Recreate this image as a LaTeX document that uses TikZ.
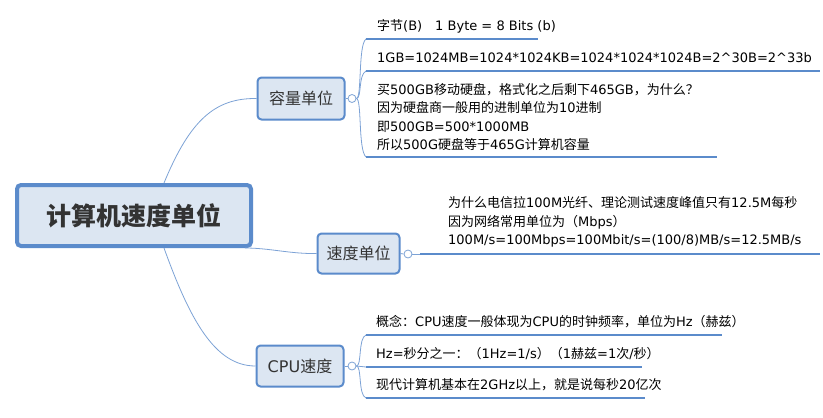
\documentclass[tikz,border=0pt]{standalone}
\usepackage{fontspec}
\setmainfont{DejaVu Sans}
\newfontfamily\cjkf{Noto Sans CJK SC}
\XeTeXinterchartokenstate=1
\newXeTeXintercharclass\cjkclass
\newcount\cc
\cc="3000 \loop\ifnum\cc<"A000 \XeTeXcharclass\cc=\cjkclass \advance\cc by 1 \repeat
\cc="FF00 \loop\ifnum\cc<"FFF0 \XeTeXcharclass\cc=\cjkclass \advance\cc by 1 \repeat
\XeTeXinterchartoks 0 \cjkclass = {\begingroup\cjkf}
\XeTeXinterchartoks 4095 \cjkclass = {\begingroup\cjkf}
\XeTeXinterchartoks \cjkclass 0 = {\endgroup}
\XeTeXinterchartoks \cjkclass 4095 = {\endgroup}
\begin{document}
\begin{tikzpicture}[x=1pt,y=-1pt,
  topic/.style={draw=boxc,line width=2pt,fill=boxf,rounded corners=4pt,inner sep=0pt,font=\fontsize{16}{18}\selectfont,text=black!80},
  leaf/.style={anchor=west,align=left,inner sep=0pt,font=\fontsize{13}{18.5}\selectfont},
  uline/.style={draw=boxc,line width=2.5pt},
  conn/.style={draw=boxc!80,line width=0.8pt},
  knob/.style={circle,draw=boxc!80,fill=white,minimum size=8pt,inner sep=0pt,line width=0.8pt}]
\definecolor{boxc}{HTML}{5B8BCB}
\definecolor{boxf}{HTML}{DCE6F2}
\useasboundingbox (0,0) rectangle (823,418);
% root
\node[topic,line width=4pt,minimum width=234,minimum height=61,font=\fontsize{25}{28}\bfseries\selectfont] (root) at (134,215.5) {计算机速度单位};
\node[topic,minimum width=87,minimum height=42] (cap) at (301,98.5) {容量单位};
\node[topic,minimum width=82,minimum height=40] (spd) at (358.5,253.5) {速度单位};
\node[topic,minimum width=87,minimum height=41] (cpu) at (300,366) {CPU速度};
% connectors root->topics
\draw[conn] (root.north)+(30,0) coordinate (r1) (r1) .. controls (190,120) and (215,98) .. (cap.west);
\draw[conn] (root.south east)+(-8,0) coordinate (r2) (r2) .. controls (270,248) and (290,254) .. (spd.west);
\draw[conn] (root.south)+(30,0) coordinate (r3) (r3) .. controls (190,320) and (215,366) .. (cpu.west);
% capacity
\node[knob] (k1) at (352,98.5) {};
\draw[conn] (cap.east) -- (k1.west);
\coordinate (c1a) at (366,39); \coordinate (c1b) at (538,39);
\coordinate (c2a) at (366,71); \coordinate (c2b) at (820,71);
\coordinate (c3a) at (366,157); \coordinate (c3b) at (717,157);
\draw[conn] (k1.east) .. controls (362,98.5) and (358,45) .. (c1a);
\draw[conn] (k1.east) .. controls (362,98.5) and (358,75) .. (c2a);
\draw[conn] (k1.east) .. controls (362,98.5) and (358,150) .. (c3a);
\draw[uline] (c1a) -- (c1b); \draw[uline] (c2a) -- (c2b); \draw[uline] (c3a) -- (c3b);
\node[leaf] (t1) at (377,26) {字节(B)\quad 1 Byte = 8 Bits (b)};
\node[leaf] (t2) at (377,58) {1GB=1024MB=1024*1024KB=1024*1024*1024B=2\textasciicircum 30B=2\textasciicircum 33b};
\node[leaf] (t3) at (377,117) {买500GB移动硬盘，格式化之后剩下465GB，为什么？\\因为硬盘商一般用的进制单位为10进制\\即500GB=500*1000MB\\所以500G硬盘等于465G计算机容量};
% speed
\node[knob] (k2) at (408,254) {};
\draw[conn] (spd.east) -- (k2.west);
\coordinate (s1a) at (420,254); \coordinate (s1b) at (820,254);
\draw[conn] (k2.east) -- (s1a);
\draw[uline] (s1a) -- (s1b);
\node[leaf] (t4) at (448,222) {为什么电信拉100M光纤、理论测试速度峰值只有12.5M每秒\\因为网络常用单位为（Mbps）\\100M/s=100Mbps=100Mbit/s=(100/8)MB/s=12.5MB/s};
% cpu
\node[knob] (k3) at (352,366) {};
\draw[conn] (cpu.east) -- (k3.west);
\coordinate (p1a) at (366,335); \coordinate (p1b) at (722,335);
\coordinate (p2a) at (366,367); \coordinate (p2b) at (642,367);
\coordinate (p3a) at (366,398); \coordinate (p3b) at (645,398);
\draw[conn] (k3.east) .. controls (362,366) and (358,338) .. (p1a);
\draw[conn] (k3.east) -- (p2a);
\draw[conn] (k3.east) .. controls (362,366) and (358,395) .. (p3a);
\draw[uline] (p1a) -- (p1b); \draw[uline] (p2a) -- (p2b); \draw[uline] (p3a) -- (p3b);
\node[leaf] (t5) at (376,322) {概念：CPU速度一般体现为CPU的时钟频率，单位为Hz（赫兹）};
\node[leaf] (t6) at (376,354) {Hz=秒分之一：（1Hz=1/s）（1赫兹=1次/秒）};
\node[leaf] (t7) at (376,385) {现代计算机基本在2GHz以上，就是说每秒20亿次};
\end{tikzpicture}
\end{document}
